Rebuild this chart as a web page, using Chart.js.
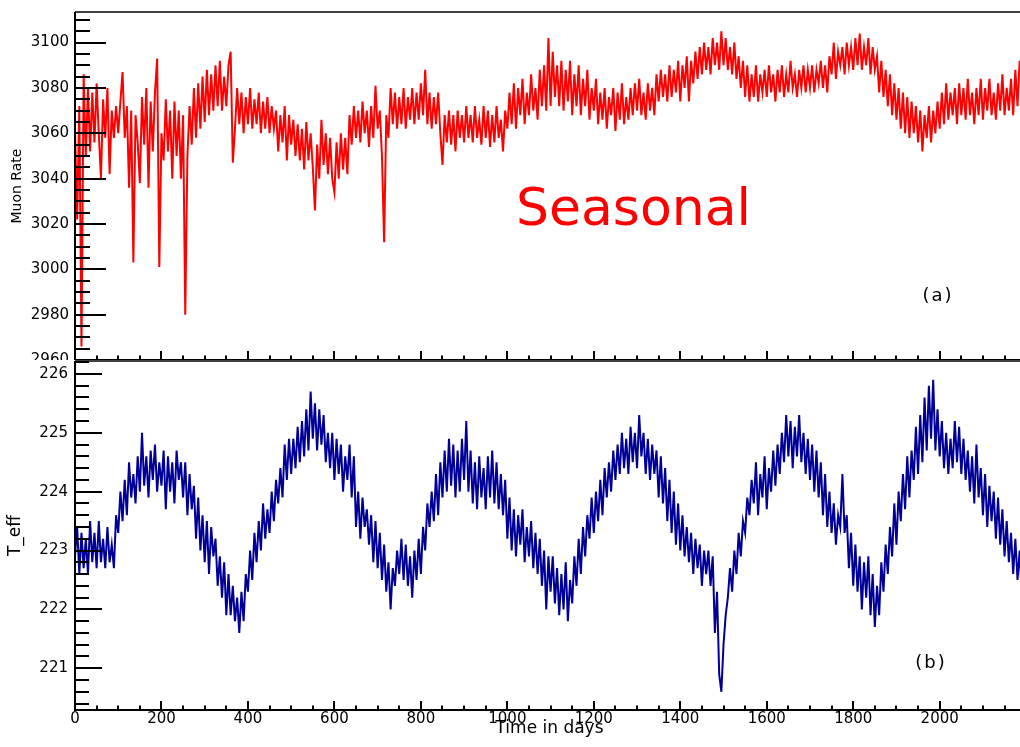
<!DOCTYPE html>
<html>
<head>
<meta charset="utf-8">
<title>Muon rate and T_eff</title>
<script src="https://cdn.jsdelivr.net/npm/chart.js@4.4.1/dist/chart.umd.min.js"></script>
<style>
  html, body { margin: 0; padding: 0; background: #fff; }
  body { width: 1020px; height: 747px; overflow: hidden; position: relative; }
  canvas { position: absolute; left: 0; }
  #muon { top: 0; }
  #teff { top: 360px; background: #fff; }
</style>
</head>
<body>
<canvas id="muon" width="1024" height="372"></canvas>
<canvas id="teff" width="1024" height="387"></canvas>
<script>
// one reading every DAY_STEP days, starting at day 0
const DAY_STEP = 5;
const X_MAX = 2195;

const dayTicks  = [0, 200, 400, 600, 800, 1000, 1200, 1400, 1600, 1800, 2000];
const muonTicks = [2960, 2980, 3000, 3020, 3040, 3060, 3080, 3100];
const teffTicks = [221, 222, 223, 224, 225, 226];

// (a) muon rate
const muonRate = [
  3062, 3022, 3072, 2966, 3086, 3050, 3080, 3052, 3078, 3056,
  3082, 3060, 3040, 3075, 3058, 3080, 3042, 3070, 3058, 3072,
  3060, 3074, 3087, 3058, 3072, 3036, 3070, 3003, 3068, 3056,
  3038, 3076, 3055, 3080, 3036, 3074, 3052, 3078, 3093, 3001,
  3060, 3048, 3075, 3052, 3070, 3040, 3074, 3050, 3070, 3040,
  3068, 2980, 3050, 3072, 3055, 3080, 3058, 3082, 3062, 3085,
  3065, 3088, 3068, 3086, 3070, 3090, 3072, 3092, 3070, 3085,
  3072, 3090, 3096, 3047, 3062, 3080, 3064, 3078, 3060, 3076,
  3064, 3080, 3062, 3075, 3064, 3078, 3060, 3074, 3062, 3076,
  3060, 3072, 3062, 3070, 3052, 3068, 3056, 3072, 3048, 3068,
  3055, 3066, 3050, 3064, 3048, 3062, 3044, 3065, 3048, 3060,
  3045, 3026, 3055, 3040, 3066, 3046, 3060, 3042, 3058, 3040,
  3034, 3056, 3040, 3060, 3044, 3058, 3042, 3068, 3055, 3072,
  3058, 3070, 3056, 3074, 3060, 3070, 3054, 3072, 3058, 3081,
  3062, 3070, 3050, 3012, 3068, 3058, 3080, 3064, 3078, 3062,
  3076, 3064, 3080, 3062, 3076, 3066, 3080, 3064, 3078, 3066,
  3082, 3068, 3088, 3064, 3078, 3062, 3076, 3064, 3078, 3060,
  3046, 3068, 3056, 3070, 3055, 3068, 3052, 3070, 3058, 3068,
  3056, 3072, 3058, 3068, 3056, 3072, 3058, 3066, 3055, 3072,
  3058, 3070, 3054, 3068, 3056, 3072, 3058, 3066, 3052, 3070,
  3062, 3078, 3064, 3082, 3062, 3080, 3068, 3084, 3064, 3078,
  3068, 3086, 3070, 3080, 3066, 3088, 3072, 3090, 3070, 3102,
  3072, 3096, 3076, 3090, 3072, 3092, 3070, 3088, 3074, 3092,
  3068, 3086, 3072, 3090, 3068, 3084, 3072, 3088, 3066, 3080,
  3070, 3084, 3064, 3078, 3066, 3080, 3062, 3076, 3068, 3080,
  3061, 3078, 3066, 3082, 3064, 3076, 3066, 3080, 3068, 3082,
  3070, 3084, 3068, 3078, 3066, 3082, 3070, 3080, 3068, 3086,
  3074, 3088, 3076, 3086, 3074, 3090, 3076, 3088, 3078, 3092,
  3074, 3090, 3080, 3094, 3074, 3092, 3082, 3096, 3084, 3098,
  3086, 3100, 3088, 3098, 3086, 3102, 3090, 3100, 3088, 3105,
  3090, 3102, 3088, 3098, 3086, 3100, 3084, 3094, 3080, 3092,
  3076, 3090, 3074, 3086, 3076, 3090, 3074, 3086, 3078, 3088,
  3076, 3090, 3078, 3086, 3074, 3088, 3078, 3090, 3076, 3086,
  3078, 3092, 3080, 3086, 3076, 3088, 3080, 3090, 3078, 3088,
  3080, 3090, 3078, 3088, 3082, 3092, 3080, 3090, 3078, 3094,
  3086, 3100, 3084, 3096, 3090, 3098, 3086, 3100, 3090, 3098,
  3088, 3102, 3090, 3104, 3088, 3098, 3090, 3102, 3086, 3098,
  3088, 3094, 3078, 3092, 3076, 3088, 3072, 3086, 3068, 3082,
  3066, 3080, 3062, 3078, 3060, 3076, 3058, 3074, 3060, 3072,
  3056, 3070, 3052, 3068, 3058, 3072, 3056, 3070, 3060, 3074,
  3062, 3078, 3064, 3082, 3066, 3078, 3068, 3080, 3064, 3082,
  3068, 3080, 3066, 3084, 3068, 3078, 3064, 3080, 3068, 3084,
  3066, 3080, 3070, 3084, 3068, 3078, 3066, 3082, 3070, 3086,
  3068, 3080, 3070, 3084, 3068, 3088, 3072, 3092, 3082
];

// (b) effective temperature
const tEff = [
  222.9, 223.4, 222.6, 223.3, 222.7, 223.2, 222.6, 223.5, 222.8, 223.3,
  222.7, 223.5, 222.8, 223.2, 222.7, 223.4, 222.8, 223.1, 222.7, 223.6,
  223.3, 224.0, 223.5, 224.2, 223.6, 224.5, 223.9, 224.3, 223.8, 224.6,
  224.0, 225.0, 224.1, 224.6, 223.9, 224.7, 224.2, 224.8, 224.0, 224.5,
  224.1, 224.7, 223.7, 224.6, 224.0, 224.5, 223.8, 224.7, 224.2, 224.5,
  223.9, 224.5, 223.6, 224.3, 223.7, 224.1, 223.2, 223.9, 223.0, 223.6,
  222.8, 223.5, 222.6, 223.4, 222.9, 223.2, 222.4, 222.9, 222.2, 222.8,
  221.9, 222.6, 221.9, 222.4, 221.8, 222.2, 221.6, 222.3, 221.8, 222.6,
  222.3, 223.0, 222.5, 223.3, 222.8, 223.5, 223.0, 223.8, 223.2, 223.7,
  223.3, 224.0, 223.5, 224.2, 223.8, 224.4, 223.9, 224.8, 224.2, 224.9,
  224.3, 224.9, 224.4, 225.1, 224.5, 225.2, 224.6, 225.4, 224.7, 225.7,
  224.9, 225.5, 224.7, 225.4, 224.8, 225.3, 224.5, 225.0, 224.4, 225.0,
  224.2, 224.9, 224.3, 224.8, 224.0, 224.6, 224.2, 224.8, 223.9, 224.6,
  223.4, 224.0, 223.2, 223.9, 223.4, 223.7, 223.1, 223.6, 222.8, 223.5,
  222.7, 223.3, 222.5, 223.1, 222.3, 222.8, 222.0, 222.7, 222.4, 223.0,
  222.6, 223.2, 222.5, 223.1, 222.4, 222.9, 222.2, 223.0, 222.5, 223.2,
  222.6, 223.4, 223.0, 223.8, 223.4, 224.0, 223.5, 224.3, 223.6, 224.5,
  223.9, 224.7, 224.0, 224.9, 224.1, 224.8, 223.9, 224.7, 224.0, 224.9,
  224.2, 225.2, 224.0, 224.7, 223.8, 224.5, 223.7, 224.6, 223.9, 224.4,
  223.7, 224.6, 223.9, 224.7, 223.8, 224.5, 223.7, 224.3, 223.6, 224.2,
  223.2, 223.9, 223.0, 223.7, 222.9, 223.6, 223.1, 223.7, 222.8, 223.4,
  222.9, 223.5, 222.7, 223.3, 222.6, 223.2, 222.4, 223.0, 222.0, 222.9,
  222.3, 222.9, 222.1, 222.7, 221.9, 222.6, 222.0, 222.8, 221.8, 222.5,
  222.1, 222.9, 222.4, 223.2, 222.6, 223.4, 222.9, 223.6, 223.2, 223.9,
  223.3, 224.0, 223.5, 224.2, 223.6, 224.4, 223.9, 224.5, 224.0, 224.7,
  224.2, 224.8, 224.3, 225.0, 224.4, 224.9, 224.3, 225.1, 224.5, 225.0,
  224.4, 225.3, 224.6, 225.0, 224.3, 224.9, 224.2, 224.8, 224.3, 224.7,
  223.9, 224.6, 223.8, 224.4, 223.5, 224.2, 223.3, 224.0, 223.1, 223.8,
  223.0, 223.6, 222.9, 223.4, 222.8, 223.3, 222.6, 223.2, 222.7, 223.1,
  222.4, 223.0, 222.6, 223.0, 222.4, 222.9, 221.6, 222.3, 220.9, 220.6,
  221.4, 221.9, 222.2, 222.7, 222.3, 223.0, 222.6, 223.3, 222.9, 223.5,
  223.3, 223.9, 223.6, 224.2, 223.8, 224.5, 223.6, 224.3, 223.9, 224.6,
  223.7, 224.4, 224.0, 224.7, 224.1, 224.8, 224.3, 225.0, 224.5, 225.3,
  224.6, 225.2, 224.4, 225.1, 224.6, 225.3, 224.5, 225.0, 224.3, 224.9,
  224.2, 224.8, 224.0, 224.7, 223.9, 224.5, 223.6, 224.3, 223.4, 224.0,
  223.3, 223.8, 223.1, 223.6, 223.4, 224.3, 223.3, 223.6, 222.7, 223.3,
  222.4, 223.1, 222.3, 222.9, 222.0, 222.8, 222.2, 222.9, 221.9, 222.6,
  221.7, 222.4, 221.9, 222.8, 222.3, 223.1, 222.6, 223.4, 222.9, 223.8,
  223.1, 224.0, 223.5, 224.3, 223.7, 224.6, 223.9, 224.7, 224.2, 225.1,
  224.3, 225.3, 224.5, 225.6, 224.7, 225.8, 224.9, 225.9, 224.7, 225.4,
  224.6, 225.2, 224.4, 225.0, 224.3, 224.9, 224.4, 225.2, 224.5, 225.1,
  224.3, 224.9, 224.2, 224.7, 224.0, 224.6, 223.8, 224.8, 223.9, 224.4,
  223.6, 224.3, 223.4, 224.1, 223.5, 224.0, 223.2, 223.9, 223.1, 223.7,
  222.9, 223.5, 222.8, 223.3, 222.6, 223.2, 222.5, 223.0, 222.2
];

const RED  = "#ff0000";
const NAVY = "#000099";

Chart.defaults.font.family = "'DejaVu Sans', sans-serif";
Chart.defaults.color = "#000";

const series = vals => vals.map((v, i) => ({ x: i * DAY_STEP, y: v }));
const useTicks = list => s => { s.ticks = list.map(v => ({ value: v })); };

// ROOT-style frame: ticks drawn inward from the left and bottom axes
const frameTicks = {
  id: "frameTicks",
  afterDatasetsDraw(chart, args, o) {
    const { ctx, chartArea: a, scales: { x, y } } = chart;
    ctx.save();
    ctx.strokeStyle = "#000";
    ctx.lineWidth = 2;
    ctx.beginPath();
    for (let i = Math.ceil(y.min / o.yMinor - 1e-6); i * o.yMinor <= y.max + 1e-6; i++) {
      const py = Math.round(y.getPixelForValue(i * o.yMinor));
      const len = i % o.yPerMajor === 0 ? o.yMajorLen : o.yMinorLen;
      ctx.moveTo(a.left, py);
      ctx.lineTo(a.left + len, py);
    }
    for (let i = Math.ceil(x.min / 50); i * 50 <= x.max; i++) {
      const px = Math.round(x.getPixelForValue(i * 50));
      const len = i % 4 === 0 ? 9 : 4.5;
      ctx.moveTo(px, a.bottom);
      ctx.lineTo(px, a.bottom - len);
    }
    ctx.stroke();

    ctx.beginPath();
    ctx.moveTo(a.left, a.top);
    ctx.lineTo(a.left, a.bottom);
    ctx.lineTo(a.right, a.bottom);
    ctx.stroke();
    ctx.lineWidth = 1.5;
    ctx.beginPath();
    ctx.moveTo(a.left, a.top);
    ctx.lineTo(a.right, a.top);
    ctx.stroke();
    ctx.restore();
  }
};

// free text placed in data coordinates
const notes = {
  id: "notes",
  afterDraw(chart, args, o) {
    const { ctx, scales: { x, y } } = chart;
    ctx.save();
    for (const n of o.items || []) {
      ctx.font = `${n.size}px 'DejaVu Sans'`;
      ctx.fillStyle = n.color;
      ctx.textAlign = n.align;
      ctx.textBaseline = "alphabetic";
      if ("letterSpacing" in ctx) ctx.letterSpacing = (n.spacing || 0) + "px";
      ctx.fillText(n.text, x.getPixelForValue(n.day), y.getPixelForValue(n.value));
    }
    ctx.restore();
  }
};

const plain = v => String(v);

function xScale(showLabels) {
  return {
    type: "linear", min: 0, max: X_MAX,
    grid: { display: false, drawTicks: false },
    border: { display: false },
    afterBuildTicks: useTicks(dayTicks),
    ticks: { display: showLabels, padding: 0, maxRotation: 0, autoSkip: false,
             font: { size: 15 }, callback: plain },
    title: { display: showLabels, text: "Time in days", font: { size: 17 },
             padding: { top: 0, bottom: 8.5 } },
    afterFit: s => {
      s.height = showLabels ? 37 : 12;
      s.paddingLeft = 0; s.paddingRight = 0;
    }
  };
}

function yScale(min, max, list, pad, title, titleSize, titlePad) {
  return {
    min, max,
    grid: { display: false, drawTicks: false },
    border: { display: false },
    afterBuildTicks: useTicks(list),
    ticks: { padding: pad, autoSkip: false, font: { size: 15 }, callback: plain },
    title: { display: true, text: title, font: { size: titleSize }, padding: { top: titlePad, bottom: 0 } },
    afterFit: s => {
      s.width = 75;
      s.paddingTop = 0; s.paddingBottom = 0;
    }
  };
}

// (a) Muon Rate
new Chart(document.getElementById("muon"), {
  type: "line",
  data: { datasets: [{ data: series(muonRate), borderColor: RED, borderWidth: 2,
                       pointRadius: 0, tension: 0 }] },
  options: {
    responsive: false, animation: false, devicePixelRatio: 1,
    layout: { padding: { top: 12, right: 0, bottom: 0, left: 0 } },
    plugins: {
      legend: { display: false }, tooltip: { enabled: false },
      frameTicks: { yMinor: 5, yPerMajor: 4, yMajorLen: 31, yMinorLen: 15 },
      notes: { items: [
        { text: "Seasonal", day: 1020, value: 3019.6, size: 52, color: RED, align: "left" },
        { text: "(a)", day: 1996, value: 2986.2, size: 18, color: "#000", align: "center", spacing: 2 }
      ] }
    },
    scales: {
      x: xScale(false),
      y: yScale(2960, 3113.5, muonTicks, 6, "Muon Rate", 14, 9)
    }
  },
  plugins: [frameTicks, notes]
});

// (b) T_eff
new Chart(document.getElementById("teff"), {
  type: "line",
  data: { datasets: [{ data: series(tEff), borderColor: NAVY, borderWidth: 2,
                       pointRadius: 0, tension: 0 }] },
  options: {
    responsive: false, animation: false, devicePixelRatio: 1,
    layout: { padding: { top: 1, right: 0, bottom: 0, left: 0 } },
    plugins: {
      legend: { display: false }, tooltip: { enabled: false },
      frameTicks: { yMinor: 0.2, yPerMajor: 5, yMajorLen: 27, yMinorLen: 14 },
      notes: { items: [
        { text: "(b)", day: 1980, value: 221.0, size: 18, color: "#000", align: "center", spacing: 2 }
      ] }
    },
    scales: {
      x: xScale(true),
      y: yScale(220.29, 226.22, teffTicks, 7, "T_eff", 17, 5)
    }
  },
  plugins: [frameTicks, notes]
});
</script>
</body>
</html>
